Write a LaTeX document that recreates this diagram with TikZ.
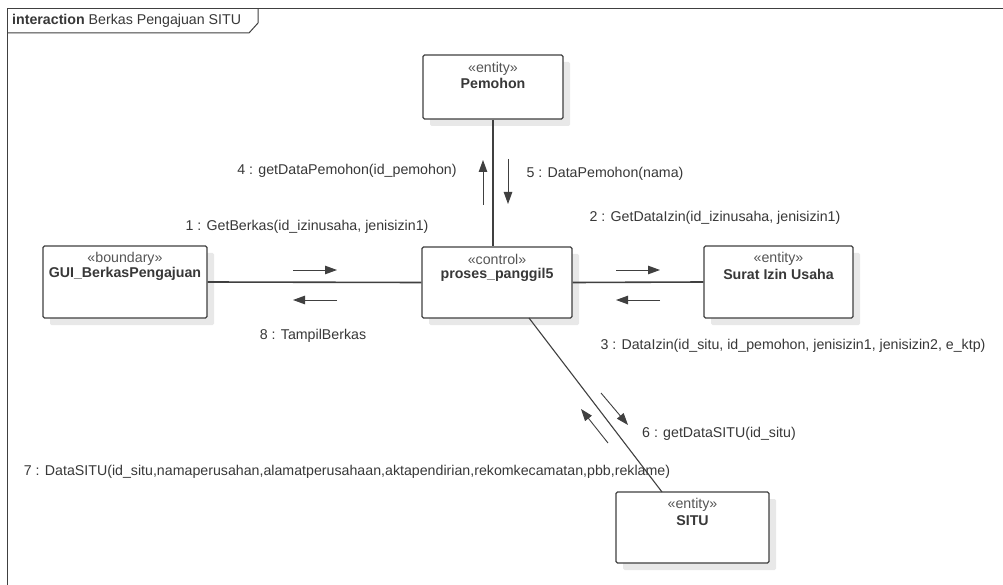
\documentclass[tikz,border=0pt]{standalone}
\usepackage{fontspec}
\setmainfont{Liberation Sans}
\usetikzlibrary{arrows.meta,shadows}
\definecolor{ln}{HTML}{404040}
\definecolor{tx}{HTML}{383838}
\definecolor{st}{HTML}{555555}
\definecolor{sh}{HTML}{E8E8E8}
\begin{document}
\begin{tikzpicture}[x=1pt,y=-1pt,
  font=\fontsize{14.2}{16}\selectfont,
  obj/.style={draw=ln, line width=1.3pt, fill=white, rounded corners=1.5pt,
    inner sep=0pt, drop shadow={shadow xshift=7pt, shadow yshift=-7pt, fill=sh, opacity=1}},
  stereo/.style={text=st, inner sep=0pt},
  oname/.style={text=tx, font=\fontsize{14.2}{16}\selectfont\bfseries, inner sep=0pt},
  conn/.style={draw=ln, line width=1.6pt},
  msg/.style={draw=ln, line width=0.9pt, -{Triangle[length=12pt,width=8.5pt]}},
  lbl/.style={text=tx, inner sep=0pt}
]
\useasboundingbox (0,0) rectangle (1003,585);
\fill[white] (0,0) rectangle (1003,585);

% frame
\draw[draw=ln, line width=1pt] (7,585) -- (7,9) -- (1003,9);
\draw[draw=ln, line width=1pt] (7,33) -- (249,33) -- (258,23) -- (258,9);
\node[lbl, anchor=west] (title) at (12,21) {\textbf{interaction} Berkas Pengajuan SITU};

% objects
\node[obj, minimum width=140pt, minimum height=64pt] (pem) at (493,87) {};
\node[obj, minimum width=150pt, minimum height=71pt] (ctl) at (497,282.5) {};
\node[obj, minimum width=164pt, minimum height=72pt] (gui) at (125,282) {};
\node[obj, minimum width=149pt, minimum height=72pt] (siu) at (778.5,282) {};
\node[obj, minimum width=153pt, minimum height=71pt] (situ) at (692.5,527.5) {};

\node[stereo] at ([yshift=-14pt]pem.north) {«entity»};
\node[oname]  at ([yshift=-29pt]pem.north) {Pemohon};
\node[stereo] at ([yshift=-13pt]ctl.north) {«control»};
\node[oname]  at ([yshift=-29pt]ctl.north) {proses\_panggil5};
\node[stereo] at ([yshift=-13pt]gui.north) {«boundary»};
\node[oname]  at ([yshift=-29pt]gui.north) {GUI\_BerkasPengajuan};
\node[stereo] at ([yshift=-13pt]siu.north) {«entity»};
\node[oname]  at ([yshift=-29pt]siu.north) {Surat Izin Usaha};
\node[stereo] at ([yshift=-13pt]situ.north) {«entity»};
\node[oname]  at ([yshift=-29pt]situ.north) {SITU};

% connectors
\draw[conn] (pem.south) -- (pem.south |- ctl.north);
\draw[conn] (gui.east) -- (ctl.west);
\draw[conn] (ctl.east) -- (siu.west);
\coordinate (dA) at (529,318);
\coordinate (dB) at (662,492);
\draw[draw=ln, line width=1.1pt] (dA) -- (dB);

% message arrows
\coordinate (m1a) at (293,270); \coordinate (m1b) at (337,270);
\coordinate (m8a) at (337,300); \coordinate (m8b) at (293,300);
\coordinate (m2a) at (616,270); \coordinate (m2b) at (660,270);
\coordinate (m3a) at (660,300); \coordinate (m3b) at (616,300);
\coordinate (m4a) at (483,205); \coordinate (m4b) at (483,160);
\coordinate (m5a) at (508,159); \coordinate (m5b) at (508,204);
\coordinate (m6a) at (601,393); \coordinate (m6b) at (628,425);
\coordinate (m7a) at (608,443); \coordinate (m7b) at (581,409);
\draw[msg] (m1a) -- (m1b);
\draw[msg] (m8a) -- (m8b);
\draw[msg] (m2a) -- (m2b);
\draw[msg] (m3a) -- (m3b);
\draw[msg] (m4a) -- (m4b);
\draw[msg] (m5a) -- (m5b);
\draw[msg] (m6a) -- (m6b);
\draw[msg] (m7a) -- (m7b);

% labels
\node[lbl] (l1) at (307,227) {1 : GetBerkas(id\_izinusaha, jenisizin1)};
\node[lbl] (l2) at (715,218) {2 : GetDataIzin(id\_izinusaha, jenisizin1)};
\node[lbl] (l3) at (793,346) {3 : DataIzin(id\_situ, id\_pemohon, jenisizin1, jenisizin2, e\_ktp)};
\node[lbl] (l4) at (347,171) {4 : getDataPemohon(id\_pemohon)};
\node[lbl] (l5) at (605,174) {5 : DataPemohon(nama)};
\node[lbl] (l6) at (719,434) {6 : getDataSITU(id\_situ)};
\node[lbl] (l7) at (347,472) {7 : DataSITU(id\_situ,namaperusahan,alamatperusahaan,aktapendirian,rekomkecamatan,pbb,reklame)};
\node[lbl] (l8) at (313,336) {8 : TampilBerkas};
\end{tikzpicture}
\end{document}
